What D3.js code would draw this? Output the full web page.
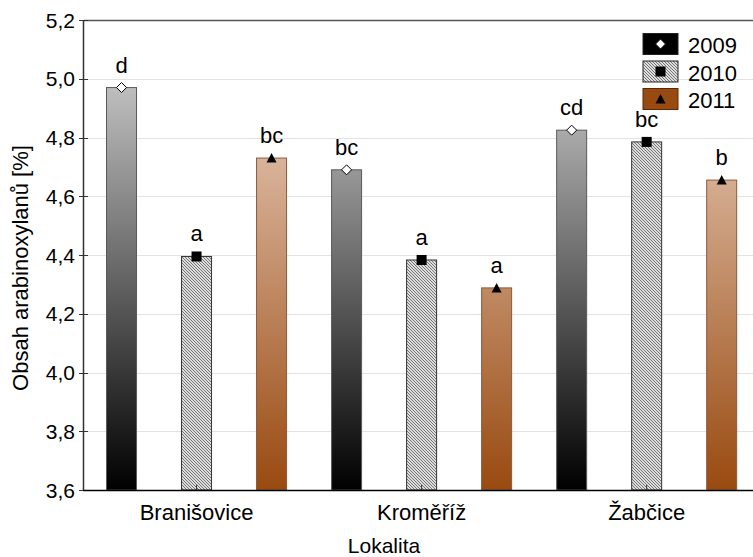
<!DOCTYPE html>
<html>
<head>
<meta charset="utf-8">
<script src="https://cdn.jsdelivr.net/npm/d3@7"></script>
<style>
  html, body { margin: 0; padding: 0; background: #fff; }
  svg { display: block; font-family: "Liberation Sans", Arial, sans-serif; }
</style>
</head>
<body>
<svg id="chart" width="753" height="557"></svg>
<script>
// Arabinoxylan content by locality and year
const localities = ["Branišovice", "Kroměříž", "Žabčice"];
const years = ["2009", "2010", "2011"];
const values2009 = [4.97, 4.69, 4.825];
const values2010 = [4.395, 4.383, 4.785];
const values2011 = [4.73, 4.288, 4.655];
const letters2009 = ["d", "bc", "cd"];
const letters2010 = ["a", "a", "bc"];
const letters2011 = ["bc", "a", "b"];
const yTicks = [3.6, 3.8, 4.0, 4.2, 4.4, 4.6, 4.8, 5.0, 5.2];
const yTitle = "Obsah arabinoxylanů [%]";
const xTitle = "Lokalita";

const seriesValues = [values2009, values2010, values2011];
const seriesLetters = [letters2009, letters2010, letters2011];

const svg = d3.select("#chart");
const plotLeft = 84, plotRight = 759.2, plotTop = 20, plotBottom = 490;

const x0 = d3.scaleBand().domain(localities).range([plotLeft, plotRight]).padding(0);
const x1 = d3.scaleBand().domain(years).range([0, x0.bandwidth()])
  .paddingInner(0.6).paddingOuter(0.3);
const y = d3.scaleLinear().domain([3.6, 5.2]).range([plotBottom, plotTop]);

const defs = svg.append("defs");
// Vertical gradients tied to the value axis
function grad(id, c0, c1) {
  const g = defs.append("linearGradient").attr("id", id)
    .attr("gradientUnits", "userSpaceOnUse")
    .attr("x1", 0).attr("x2", 0).attr("y1", y(5.2)).attr("y2", y(3.6));
  g.append("stop").attr("offset", 0).attr("stop-color", c0);
  g.append("stop").attr("offset", 1).attr("stop-color", c1);
}
grad("g2009", "#dedede", "#000000");
grad("g2011", "#f3dfd3", "#994a10");
const pat = defs.append("pattern").attr("id", "hatch")
  .attr("patternUnits", "userSpaceOnUse").attr("width", 3).attr("height", 3);
pat.append("rect").attr("width", 3).attr("height", 3).attr("fill", "#dcdcdc");
pat.append("path").attr("d", "M-1,-1L4,4M-1,2L1,4M2,-1L4,1")
  .attr("stroke", "#777777").attr("stroke-width", 1);

const fills = ["url(#g2009)", "url(#hatch)", "url(#g2011)"];
const strokes = ["#5a5a5a", "#333333", "#8b5a3c"];
const legendFills = ["#000000", "url(#hatch)", "#994a10"];

// Grid lines
svg.append("g").selectAll("line").data(yTicks.slice(1, -1)).join("line")
  .attr("x1", plotLeft).attr("x2", 753)
  .attr("y1", d => Math.round(y(d)) + 0.5).attr("y2", d => Math.round(y(d)) + 0.5)
  .attr("stroke", "#e3e3e3").attr("stroke-width", 1);

// Top frame
svg.append("line").attr("x1", plotLeft).attr("x2", 753)
  .attr("y1", plotTop + 0.5).attr("y2", plotTop + 0.5)
  .attr("stroke", "#555").attr("stroke-width", 1.5);

// Bars
years.forEach((yr, s) => {
  const g = svg.append("g");
  g.selectAll("rect").data(localities).join("rect")
    .attr("x", (d) => x0(d) + x1(yr))
    .attr("width", x1.bandwidth())
    .attr("y", (d, i) => y(seriesValues[s][i]))
    .attr("height", (d, i) => y(3.6) - y(seriesValues[s][i]))
    .attr("fill", fills[s]).attr("stroke", strokes[s]).attr("stroke-width", 1);
});

// Markers
function drawMarker(sel, s, cx, cy) {
  if (s === 0) {
    sel.append("path")
      .attr("d", `M${cx},${cy - 5}L${cx + 5},${cy}L${cx},${cy + 5}L${cx - 5},${cy}Z`)
      .attr("fill", "#fff").attr("stroke", "#000").attr("stroke-width", 1);
  } else if (s === 1) {
    sel.append("rect").attr("x", cx - 5).attr("y", cy - 5)
      .attr("width", 10).attr("height", 10).attr("fill", "#000");
  } else {
    sel.append("path")
      .attr("d", `M${cx},${cy - 5}L${cx + 5},${cy + 4.5}L${cx - 5},${cy + 4.5}Z`)
      .attr("fill", "#000");
  }
}
const mg = svg.append("g");
years.forEach((yr, s) => {
  localities.forEach((loc, i) => {
    const cx = x0(loc) + x1(yr) + x1.bandwidth() / 2;
    const cy = y(seriesValues[s][i]);
    drawMarker(mg, s, cx, cy);
    mg.append("text").attr("x", cx).attr("y", cy - 15)
      .attr("text-anchor", "middle").attr("font-size", 22).attr("fill", "#000")
      .text(seriesLetters[s][i]);
  });
});

// Y axis
svg.append("line").attr("x1", plotLeft - 0.5).attr("x2", plotLeft - 0.5)
  .attr("y1", plotTop).attr("y2", plotBottom + 1).attr("stroke", "#333").attr("stroke-width", 1.5);
const yg = svg.append("g");
yg.selectAll("line").data(yTicks).join("line")
  .attr("x1", plotLeft - 5).attr("x2", plotLeft + 4)
  .attr("y1", d => Math.round(y(d)) + 0.5).attr("y2", d => Math.round(y(d)) + 0.5)
  .attr("stroke", "#333");
yg.selectAll("text").data(yTicks).join("text")
  .attr("x", 75).attr("y", d => y(d) + 7.5)
  .attr("text-anchor", "end").attr("font-size", 21).attr("fill", "#000")
  .text(d => d3.format(".1f")(d).replace(".", ","));

// X axis
svg.append("line").attr("x1", plotLeft - 1).attr("x2", 753)
  .attr("y1", plotBottom + 0.5).attr("y2", plotBottom + 0.5).attr("stroke", "#000").attr("stroke-width", 1.5);
const xg = svg.append("g");
xg.selectAll("line").data(localities).join("line")
  .attr("x1", d => x0(d) + x0.bandwidth() / 2).attr("x2", d => x0(d) + x0.bandwidth() / 2)
  .attr("y1", plotBottom).attr("y2", plotBottom - 5).attr("stroke", "#333");
xg.selectAll("text").data(localities).join("text")
  .attr("x", d => x0(d) + x0.bandwidth() / 2).attr("y", 520)
  .attr("text-anchor", "middle").attr("font-size", 22).attr("fill", "#000")
  .text(d => d);

// Titles
svg.append("text").attr("x", 384).attr("y", 553).attr("text-anchor", "middle")
  .attr("font-size", 21).attr("fill", "#000").text(xTitle);
svg.append("text").attr("transform", "translate(28,268) rotate(-90)")
  .attr("text-anchor", "middle").attr("font-size", 22).attr("fill", "#000").text(yTitle);

// Legend
const lg = svg.append("g");
years.forEach((yr, s) => {
  const by = 33.5 + s * 27.5;
  lg.append("rect").attr("x", 643).attr("y", by).attr("width", 35).attr("height", 21)
    .attr("fill", legendFills[s]).attr("stroke", s === 2 ? "#5a2a08" : "#222").attr("stroke-width", 1);
  drawMarker(lg, s, 660.5, by + 10.5);
  lg.append("text").attr("x", 688).attr("y", by + 19.5).attr("font-size", 22)
    .attr("fill", "#000").text(yr);
});
</script>
</body>
</html>
